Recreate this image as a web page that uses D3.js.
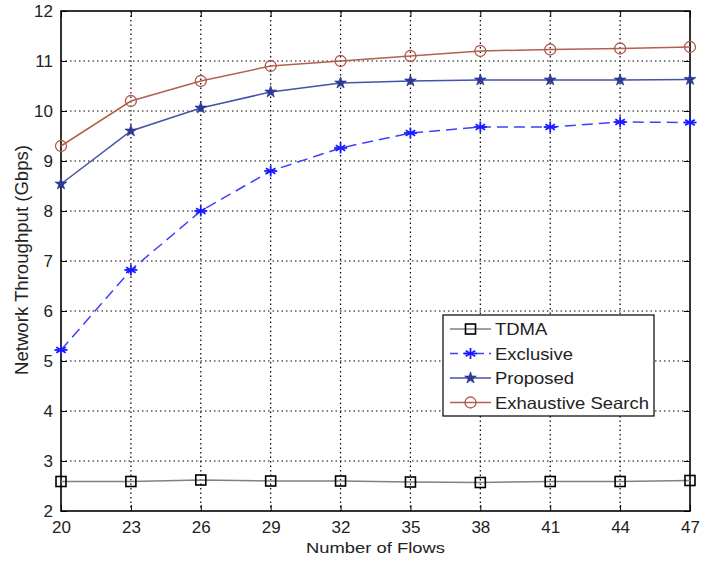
<!DOCTYPE html>
<html>
<head>
<meta charset="utf-8">
<script src="https://cdn.jsdelivr.net/npm/d3@7"></script>
<style>
  body { margin: 0; background: #fff; }
  svg { display: block; font-family: "Liberation Sans", Arial, sans-serif; }
</style>
</head>
<body>
<svg id="chart" width="702" height="561"></svg>
<script>
// Number of flows on the x axis
const flows = [20, 23, 26, 29, 32, 35, 38, 41, 44, 47];

// Network throughput (Gbps) per scheme
const tdma       = [2.59, 2.59, 2.62, 2.60, 2.60, 2.58, 2.57, 2.59, 2.59, 2.61];
const exclusive  = [5.22, 6.82, 8.00, 8.80, 9.26, 9.56, 9.68, 9.68, 9.78, 9.77];
const proposed   = [8.54, 9.60, 10.06, 10.38, 10.56, 10.60, 10.62, 10.62, 10.62, 10.63];
const exhaustive = [9.30, 10.20, 10.60, 10.90, 11.00, 11.10, 11.20, 11.23, 11.25, 11.28];

const yTicks = [2, 3, 4, 5, 6, 7, 8, 9, 10, 11, 12];
const seriesNames = ["TDMA", "Exclusive", "Proposed", "Exhaustive Search"];

const series = [
  { name: seriesNames[0], values: tdma,       color: "#000000", line: "#808080", dash: null,   marker: "square" },
  { name: seriesNames[1], values: exclusive,  color: "#1a1aff", line: "#4040ff", dash: "11,6", marker: "asterisk" },
  { name: seriesNames[2], values: proposed,   color: "#2c3a96", line: "#4652a6", dash: null,   marker: "star" },
  { name: seriesNames[3], values: exhaustive, color: "#b0584a", line: "#b3604f", dash: null,   marker: "circle" }
];

const svg = d3.select("#chart");
const m = { left: 61, right: 690, top: 11, bottom: 511 };

const x = d3.scaleLinear().domain([20, 47]).range([m.left, m.right]);
const y = d3.scaleLinear().domain([2, 12]).range([m.bottom, m.top]);

// Dotted grid
const grid = svg.append("g").attr("stroke", "#000").attr("stroke-width", 1.2)
  .attr("stroke-dasharray", "1.5,3");
grid.selectAll("line.v").data(flows.slice(1, -1)).enter().append("line")
  .attr("x1", d => x(d)).attr("x2", d => x(d))
  .attr("y1", m.top).attr("y2", m.bottom);
grid.selectAll("line.h").data(yTicks.slice(1, -1)).enter().append("line")
  .attr("y1", d => y(d)).attr("y2", d => y(d))
  .attr("x1", m.left).attr("x2", m.right);

// Axes with inward ticks
const xAxis = d3.axisBottom(x).tickValues(flows).tickSizeInner(-6).tickSizeOuter(0).tickPadding(10);
const yAxis = d3.axisLeft(y).tickValues(yTicks).tickSizeInner(-6).tickSizeOuter(0).tickPadding(8);
const xAxisTop = d3.axisTop(x).tickValues(flows).tickSizeInner(-6).tickSizeOuter(0).tickFormat("");
const yAxisRight = d3.axisRight(y).tickValues(yTicks).tickSizeInner(-6).tickSizeOuter(0).tickFormat("");

function styleAxis(g) {
  g.select(".domain").remove();
  g.selectAll(".tick line").attr("stroke", "#000").attr("stroke-width", 1);
  g.selectAll(".tick text").attr("fill", "#222").style("font-size", "17px")
    .style("font-family", "'Liberation Sans', Arial, sans-serif");
}
svg.append("g").attr("transform", `translate(0,${m.bottom})`).call(xAxis).call(styleAxis);
svg.append("g").attr("transform", `translate(${m.left},0)`).call(yAxis).call(styleAxis);
svg.append("g").attr("transform", `translate(0,${m.top})`).call(xAxisTop).call(styleAxis);
svg.append("g").attr("transform", `translate(${m.right},0)`).call(yAxisRight).call(styleAxis);

// Plot box
svg.append("rect").attr("x", m.left).attr("y", m.top)
  .attr("width", m.right - m.left).attr("height", m.bottom - m.top)
  .attr("fill", "none").attr("stroke", "#000").attr("stroke-width", 1.6);

// Marker drawing
function drawMarker(g, type, color, cx, cy) {
  if (type === "square") {
    g.append("rect").attr("x", cx - 5).attr("y", cy - 5).attr("width", 10).attr("height", 10)
      .attr("fill", "none").attr("stroke", color).attr("stroke-width", 1.6);
  } else if (type === "circle") {
    g.append("circle").attr("cx", cx).attr("cy", cy).attr("r", 5.5)
      .attr("fill", "none").attr("stroke", color).attr("stroke-width", 1.3);
  } else if (type === "star") {
    g.append("path").attr("d", d3.symbol().type(d3.symbolStar).size(42)())
      .attr("transform", `translate(${cx},${cy})`)
      .attr("fill", color).attr("stroke", color).attr("stroke-width", 0.8);
  } else if (type === "asterisk") {
    const r = 5.5;
    const a = g.append("g").attr("transform", `translate(${cx},${cy})`)
      .attr("stroke", color).attr("stroke-width", 1.8);
    [0, 60, 120].forEach(ang => {
      const t = ang * Math.PI / 180;
      a.append("line").attr("x1", -r * Math.sin(t)).attr("y1", -r * Math.cos(t))
        .attr("x2", r * Math.sin(t)).attr("y2", r * Math.cos(t));
    });
    a.append("line").attr("x1", -r - 1).attr("x2", r + 1).attr("y1", 0).attr("y2", 0);
  }
}

const line = d3.line().x((d, i) => x(flows[i])).y(d => y(d));

series.forEach(s => {
  const g = svg.append("g");
  g.append("path").datum(s.values).attr("d", line)
    .attr("fill", "none").attr("stroke", s.line).attr("stroke-width", 1.5)
    .attr("stroke-dasharray", s.dash);
  s.values.forEach((v, i) => drawMarker(g, s.marker, s.color, x(flows[i]), y(v)));
});

// Wide text: render at a given size, then stretch horizontally to a target width
function wideText(parent, str, size, x0, y0, targetWidth, anchor) {
  const g = parent.append("g");
  const t = g.append("text").attr("x", 0).attr("y", 0).text(str)
    .attr("fill", "#222").style("font-size", size + "px").attr("text-anchor", anchor);
  const w = t.node().getComputedTextLength();
  g.attr("transform", `translate(${x0},${y0}) scale(${targetWidth / w},1)`);
  return g;
}

// Legend
const lg = svg.append("g");
lg.append("rect").attr("x", 443).attr("y", 315).attr("width", 211).attr("height", 101)
  .attr("fill", "#fff").attr("stroke", "#000").attr("stroke-width", 1.2);
series.forEach((s, i) => {
  const ly = 329 + i * 24.5;
  lg.append("line").attr("x1", 450).attr("x2", 491).attr("y1", ly).attr("y2", ly)
    .attr("stroke", s.line).attr("stroke-width", 1.5)
    .attr("stroke-dasharray", s.dash ? "8,5" : null);
  drawMarker(lg, s.marker, s.color, 470.5, ly);
  const probe = lg.append("text").text(s.name).style("font-size", "16.5px");
  const w = probe.node().getComputedTextLength();
  probe.remove();
  wideText(lg, s.name, 16.5, 495, ly + 6, w * 1.12, "start");
});

// Axis titles
wideText(svg, "Number of Flows", 14.5, (m.left + m.right) / 2, 553, 139, "middle");
svg.append("text").attr("transform", "translate(28,260) rotate(-90) scale(1,1.1)")
  .attr("text-anchor", "middle").attr("fill", "#222").style("font-size", "17px")
  .attr("textLength", 230).attr("lengthAdjust", "spacingAndGlyphs")
  .text("Network Throughput (Gbps)");
</script>
</body>
</html>
